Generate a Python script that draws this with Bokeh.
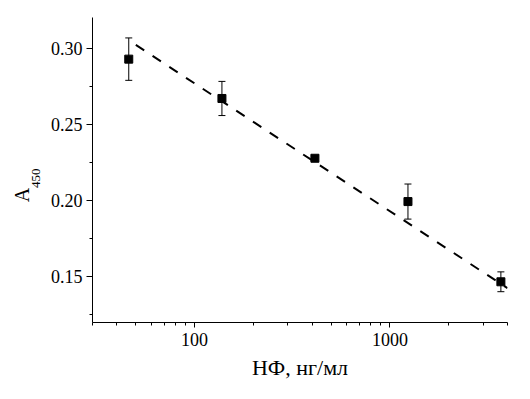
from bokeh.plotting import figure
from bokeh.models import (ColumnDataSource, Whisker, TeeHead, Range1d, SingleIntervalTicker,
                          NumeralTickFormatter, LogTicker, LinearAxis, FixedTicker)
from bokeh.embed import file_html
from bokeh.resources import INLINE

# data
conc = [46, 138, 413, 1237, 3700]          # НФ, нг/мл
a450 = [0.2927, 0.2669, 0.2277, 0.1993, 0.1467]
err = [0.0139, 0.0112, 0.0015, 0.0115, 0.0065]
fit_x = [50, 4000]
fit_y = [0.302, 0.1425]

FONT = "Liberation Serif"
NB = "\u00a0"

src = ColumnDataSource(dict(x=conc, y=a450,
                            lo=[v - e for v, e in zip(a450, err)],
                            hi=[v + e for v, e in zip(a450, err)]))

p = figure(x_axis_type="log", output_backend="svg", toolbar_location=None,
           frame_width=415, frame_height=305,
           min_border_left=92, min_border_right=15, min_border_top=17, min_border_bottom=69,
           x_range=Range1d(30, 4000), y_range=Range1d(0.12, 0.32))
p.outline_line_color = None
p.xgrid.visible = False
p.ygrid.visible = False
p.background_fill_color = "white"
p.border_fill_color = "white"

p.line(fit_x, fit_y, line_color="black", line_width=2, line_dash="10 10")
p.add_layout(Whisker(source=src, base="x", lower="lo", upper="hi", line_color="black", line_width=1,
                     upper_head=TeeHead(size=7, line_color="black", line_width=1),
                     lower_head=TeeHead(size=7, line_color="black", line_width=1)))
p.scatter("x", "y", source=src, marker="square", size=8, fill_color="black", line_color="black")

for ax in (p.xaxis[0], p.yaxis[0]):
    ax.axis_line_color = "black"
    ax.axis_line_width = 1
    ax.major_tick_line_color = "black"
    ax.minor_tick_line_color = "black"
    ax.major_tick_in = 0
    ax.minor_tick_in = 0
    ax.major_label_text_font = FONT
    ax.major_label_text_font_size = "18px"
    ax.major_label_text_color = "black"

p.yaxis.ticker = SingleIntervalTicker(interval=0.05, num_minor_ticks=2)
p.yaxis.formatter = NumeralTickFormatter(format="0.00")
p.yaxis.major_tick_out = 6
p.yaxis.minor_tick_out = 3
p.yaxis.major_label_standoff = 4

p.xaxis.ticker = LogTicker(num_minor_ticks=10)
p.xaxis.formatter = NumeralTickFormatter(format="0")
p.xaxis.major_tick_out = 5
p.xaxis.minor_tick_out = 3
p.xaxis.major_label_standoff = 5
p.xaxis.axis_label = "НФ, нг/мл"
p.xaxis.axis_label_text_font = FONT
p.xaxis.axis_label_text_font_size = "22px"
p.xaxis.axis_label_text_font_style = "normal"
p.xaxis.axis_label_standoff = 6
p.xaxis.axis_label_text_color = "black"


def label_axis(text, size, standoff):
    ax = LinearAxis(ticker=FixedTicker(ticks=[]), axis_line_color=None,
                    major_tick_out=0, minor_tick_out=0, major_tick_in=0, minor_tick_in=0,
                    major_label_standoff=0, axis_label=text, axis_label_standoff=standoff,
                    axis_label_text_font=FONT, axis_label_text_font_size=size,
                    axis_label_text_font_style="normal", axis_label_text_color="black")
    p.add_layout(ax, "left")


# y-axis title "A" with subscript "450" (padding shifts it below the frame centre)
label_axis("450" + NB * 5, "13px", 5)
label_axis("A" + NB * 10, "20px", -8)

open("out.html", "w").write(file_html(p, INLINE))
